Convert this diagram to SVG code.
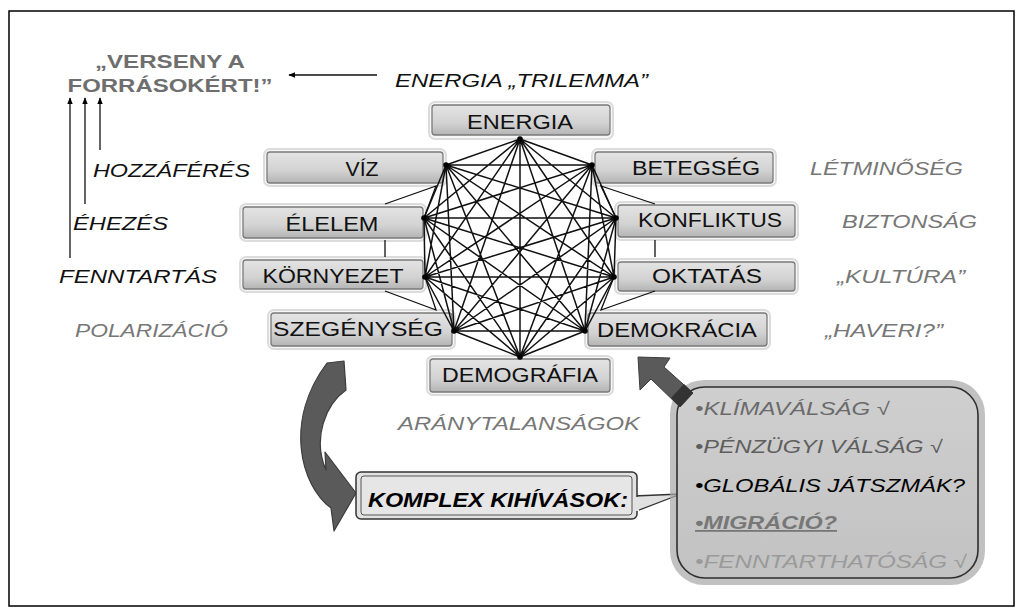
<svg xmlns="http://www.w3.org/2000/svg" width="1023" height="611" viewBox="0 0 1023 611">
<defs>
<linearGradient id="ng" x1="0" y1="0" x2="0" y2="1">
<stop offset="0" stop-color="#e4e4e4"/>
<stop offset="0.6" stop-color="#d2d2d2"/>
<stop offset="1" stop-color="#b4b4b4"/>
</linearGradient>
<linearGradient id="ig" x1="0" y1="0" x2="0" y2="1">
<stop offset="0" stop-color="#cfcfcf"/>
<stop offset="1" stop-color="#c2c2c2"/>
</linearGradient>
<marker id="ah" viewBox="0 0 10 10" refX="9" refY="5" markerWidth="7" markerHeight="7" orient="auto-start-reverse" markerUnits="userSpaceOnUse">
<path d="M0,1 L10,5 L0,9 Z" fill="#000"/>
</marker>
<style>
.halo{fill:#f6f6f6;stroke:#dcdcdc;stroke-width:2}
.box{fill:url(#ng);stroke:#7a7a7a;stroke-width:1.3}
.nt{font-family:"Liberation Sans",Arial,sans-serif;font-size:20px;fill:#111;text-anchor:middle}
.lab{font-family:"Liberation Sans",Arial,sans-serif;font-size:19px;font-style:italic}
.blk{fill:#111}
.gry{fill:#777}
.edge{stroke:#111;stroke-width:1.5;fill:none}
.thin{stroke:#111;stroke-width:1.3;fill:none}
.dot{fill:#000}
.li{font-family:"Liberation Sans",Arial,sans-serif;font-size:18px;font-style:italic}
</style>
</defs>
<rect x="0" y="0" width="1023" height="611" fill="#fff"/>
<rect x="9" y="11" width="1005" height="595" fill="none" stroke="#000" stroke-width="1.5"/>

<g id="title">
<text x="170" y="68" font-family="Liberation Sans, Arial, sans-serif" font-size="19" font-weight="bold" fill="#6e6e6e" text-anchor="middle" textLength="150" lengthAdjust="spacingAndGlyphs">„VERSENY A</text>
<text x="170" y="92" font-family="Liberation Sans, Arial, sans-serif" font-size="19" font-weight="bold" fill="#6e6e6e" text-anchor="middle" textLength="205" lengthAdjust="spacingAndGlyphs">FORRÁSOKÉRT!”</text>
</g>
<g id="trilemma">
<text class="lab blk" x="395" y="87" textLength="253" lengthAdjust="spacingAndGlyphs">ENERGIA „TRILEMMA”</text>
</g>
<g id="side-labels">
<text class="lab blk" x="93" y="177" textLength="157" lengthAdjust="spacingAndGlyphs">HOZZÁFÉRÉS</text>
<text class="lab blk" x="73" y="230" textLength="95" lengthAdjust="spacingAndGlyphs">ÉHEZÉS</text>
<text class="lab blk" x="59" y="283" textLength="158" lengthAdjust="spacingAndGlyphs">FENNTARTÁS</text>
<text class="lab gry" x="75" y="337" textLength="153" lengthAdjust="spacingAndGlyphs">POLARIZÁCIÓ</text>
<text class="lab gry" x="810" y="175" textLength="153" lengthAdjust="spacingAndGlyphs">LÉTMINŐSÉG</text>
<text class="lab gry" x="842" y="228" textLength="135" lengthAdjust="spacingAndGlyphs">BIZTONSÁG</text>
<text class="lab gry" x="837" y="283" textLength="128" lengthAdjust="spacingAndGlyphs">„KULTÚRA”</text>
<text class="lab gry" x="825" y="337" textLength="118" lengthAdjust="spacingAndGlyphs">„HAVERI?”</text>
<text class="lab gry" x="398" y="430" textLength="242" lengthAdjust="spacingAndGlyphs">ARÁNYTALANSÁGOK</text>
</g>

<g id="n-energia"><rect class="halo" x="429" y="102" width="184" height="37" rx="6"/><rect class="box" x="432" y="105" width="178" height="30" rx="3"/><text class="nt" x="520" y="129" textLength="106" lengthAdjust="spacingAndGlyphs">ENERGIA</text></g>
<g id="n-viz"><rect class="halo" x="264" y="149" width="182" height="37" rx="6"/><rect class="box" x="267" y="152" width="176" height="31" rx="3"/><text class="nt" x="362" y="176" textLength="33" lengthAdjust="spacingAndGlyphs">VÍZ</text></g>
<g id="n-betegseg"><rect class="halo" x="592" y="149" width="184" height="37" rx="6"/><rect class="box" x="595" y="152" width="178" height="31" rx="3"/><text class="nt" x="696" y="175" textLength="128" lengthAdjust="spacingAndGlyphs">BETEGSÉG</text></g>
<g id="n-elelem"><rect class="halo" x="240" y="204" width="186" height="37" rx="6"/><rect class="box" x="243" y="207" width="180" height="31" rx="3"/><text class="nt" x="332" y="231" textLength="93" lengthAdjust="spacingAndGlyphs">ÉLELEM</text></g>
<g id="n-konfliktus"><rect class="halo" x="615" y="202" width="183" height="38" rx="6"/><rect class="box" x="618" y="205" width="177" height="32" rx="3"/><text class="nt" x="710" y="227" textLength="144" lengthAdjust="spacingAndGlyphs">KONFLIKTUS</text></g>
<g id="n-kornyezet"><rect class="halo" x="240" y="257" width="186" height="35" rx="6"/><rect class="box" x="243" y="260" width="180" height="29" rx="3"/><text class="nt" x="333" y="283" textLength="141" lengthAdjust="spacingAndGlyphs">KÖRNYEZET</text></g>
<g id="n-oktatas"><rect class="halo" x="615" y="259" width="183" height="35" rx="6"/><rect class="box" x="618" y="262" width="177" height="29" rx="3"/><text class="nt" x="707" y="283" textLength="110" lengthAdjust="spacingAndGlyphs">OKTATÁS</text></g>
<g id="n-szegenyseg"><rect class="halo" x="268" y="310" width="187" height="39" rx="6"/><rect class="box" x="271" y="313" width="181" height="33" rx="3"/><text class="nt" x="358" y="336" textLength="170" lengthAdjust="spacingAndGlyphs">SZEGÉNYSÉG</text></g>
<g id="n-demokracia"><rect class="halo" x="585" y="310" width="185" height="39" rx="6"/><rect class="box" x="588" y="313" width="179" height="33" rx="3"/><text class="nt" x="677" y="337" textLength="160" lengthAdjust="spacingAndGlyphs">DEMOKRÁCIA</text></g>
<g id="n-demografia"><rect class="halo" x="427" y="356" width="186" height="39" rx="6"/><rect class="box" x="430" y="359" width="180" height="33" rx="3"/><text class="nt" x="520" y="382" textLength="156" lengthAdjust="spacingAndGlyphs">DEMOGRÁFIA</text></g>

<g id="connectors">
<path class="edge" d="M520 139 L446 165 M520 139 L592 165 M520 139 L424 218 M520 139 L616 218 M520 139 L425 277 M520 139 L614 277 M520 139 L454 331 M520 139 L585 331 M520 139 L520 357
M446 165 L592 165 M446 165 L424 218 M446 165 L616 218 M446 165 L425 277 M446 165 L614 277 M446 165 L454 331 M446 165 L585 331 M446 165 L520 357
M592 165 L424 218 M592 165 L616 218 M592 165 L425 277 M592 165 L614 277 M592 165 L454 331 M592 165 L585 331 M592 165 L520 357
M424 218 L616 218 M424 218 L425 277 M424 218 L614 277 M424 218 L454 331 M424 218 L585 331 M424 218 L520 357
M616 218 L425 277 M616 218 L614 277 M616 218 L454 331 M616 218 L585 331 M616 218 L520 357
M425 277 L614 277 M425 277 L454 331 M425 277 L585 331 M425 277 L520 357
M614 277 L454 331 M614 277 L585 331 M614 277 L520 357
M454 331 L585 331 M454 331 L520 357 M585 331 L520 357"/>
<path class="thin" d="M385 204 L436 186 L424 218 M385 291 L436 310 L425 277 M655 204 L601 186 L616 218 M655 291 L601 310 L614 277 M385 240 L385 257 M655 240 L655 257"/>
<g class="dots">
<circle class="dot" cx="520" cy="139" r="2.8"/><circle class="dot" cx="446" cy="165" r="2.8"/><circle class="dot" cx="592" cy="165" r="2.8"/>
<circle class="dot" cx="424" cy="218" r="2.8"/><circle class="dot" cx="616" cy="218" r="2.8"/><circle class="dot" cx="425" cy="277" r="2.8"/>
<circle class="dot" cx="614" cy="277" r="2.8"/><circle class="dot" cx="454" cy="331" r="2.8"/><circle class="dot" cx="585" cy="331" r="2.8"/>
<circle class="dot" cx="520" cy="357" r="2.8"/>
</g>
<line class="thin" x1="377" y1="75" x2="289" y2="75" marker-end="url(#ah)"/>
<line class="thin" x1="70" y1="258" x2="70" y2="98" marker-end="url(#ah)"/>
<line class="thin" x1="85" y1="204" x2="85" y2="98" marker-end="url(#ah)"/>
<line class="thin" x1="100" y1="150" x2="100" y2="98" marker-end="url(#ah)"/>
<path id="curved-arrow" d="M327 363 L344 361 L346 390 C326 404 312 438 326 470 L325 452 L356 493 L334 531 L331 508 C300 485 284 420 327 363 Z" fill="#5a5a5a" stroke="#3c3c3c" stroke-width="1.2" stroke-linejoin="round"/>
</g>

<g id="n-komplex">
<path d="M634 496 L681 494 L634 512" fill="#e0e0e0" stroke="#333" stroke-width="1.3"/>
<rect x="356" y="472" width="281" height="47" rx="5" fill="#e2e2e2" stroke="#333" stroke-width="1.5"/>
<rect x="361" y="476" width="271" height="39" rx="3" fill="#e6e6e6" stroke="#555" stroke-width="1"/>
<rect x="636" y="497" width="3" height="14" fill="#e2e2e2"/>
<text x="368" y="507" font-family="Liberation Sans, Arial, sans-serif" font-size="20" font-weight="bold" font-style="italic" fill="#000" textLength="260" lengthAdjust="spacingAndGlyphs">KOMPLEX KIHÍVÁSOK:</text>
</g>

<g id="n-info">
<rect x="670" y="380" width="315" height="205" rx="34" fill="#a6a6a6" opacity="0.7"/>
<rect x="677" y="387" width="301" height="191" rx="28" fill="url(#ig)" stroke="#2e2e2e" stroke-width="1.6"/>
<text class="li" x="695" y="415" fill="#6a6a6a" textLength="195" lengthAdjust="spacingAndGlyphs">•KLÍMAVÁLSÁG √</text>
<text class="li" x="695" y="453" fill="#5e5e5e" textLength="248" lengthAdjust="spacingAndGlyphs">•PÉNZÜGYI VÁLSÁG √</text>
<text class="li" x="695" y="492" fill="#000" textLength="270" lengthAdjust="spacingAndGlyphs">•GLOBÁLIS JÁTSZMÁK?</text>
<text class="li" x="695" y="529" fill="#777" font-weight="bold" text-decoration="underline" textLength="142" lengthAdjust="spacingAndGlyphs">•MIGRÁCIÓ?</text>
<text class="li" x="695" y="568" fill="#9a9a9a" textLength="272" lengthAdjust="spacingAndGlyphs">•FENNTARTHATÓSÁG √</text>
</g>

<g id="info-arrow">
<polygon points="638,357 670,358 664,367 693,393 680,407 651,379 640,390" fill="#5a5a5a" stroke="#3c3c3c" stroke-width="1"/>
<polygon points="684,384 693,393 680,407 671,398" fill="#333"/>
</g>
</svg>
